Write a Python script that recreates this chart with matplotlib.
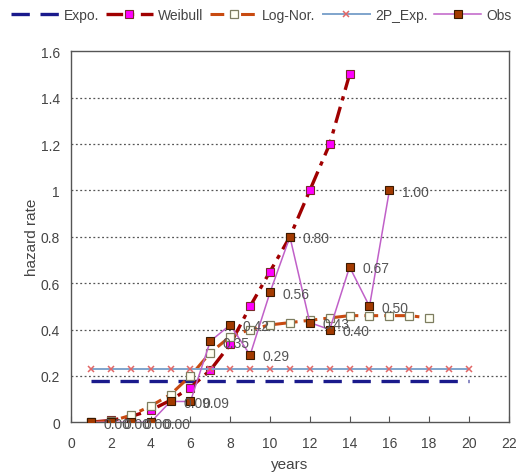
import matplotlib
matplotlib.use("Agg")
import matplotlib.pyplot as plt

plt.rcParams["font.family"] = ["Liberation Sans", "DejaVu Sans"]

# ---- data ----
years = list(range(1, 21))

expo_x = [1, 20]
expo = [0.18, 0.18]

weibull_x = list(range(1, 15))
weibull = [0.001, 0.008, 0.025, 0.052, 0.095, 0.15, 0.225, 0.336,
           0.50, 0.65, 0.80, 1.00, 1.20, 1.50]

lognor_x = list(range(1, 19))
lognor = [0.0, 0.005, 0.03, 0.07, 0.12, 0.20, 0.30, 0.37, 0.40,
          0.42, 0.43, 0.44, 0.45, 0.46, 0.46, 0.46, 0.46, 0.45]

exp2p_x = years
exp2p = [0.23] * 20

obs_x = list(range(1, 17))
obs = [0.00, 0.00, 0.00, 0.00, 0.09, 0.09, 0.35, 0.42, 0.29,
       0.56, 0.80, 0.43, 0.40, 0.67, 0.50, 1.00]

x_ticks = list(range(0, 23, 2))
y_ticks = [0, 0.2, 0.4, 0.6, 0.8, 1.0, 1.2, 1.4, 1.6]
y_tick_labels = ["0", "0.2", "0.4", "0.6", "0.8", "1", "1.2", "1.4", "1.6"]

# ---- figure ----
fig = plt.figure(figsize=(5.23, 4.77), dpi=100)
ax = fig.add_axes([0.1358, 0.1125, 0.837, 0.778])

txt = "#444444"
ms = 5.8

l_expo, = ax.plot(expo_x, expo, color="#1a1a8c", lw=2.4,
                  dashes=(5.5, 3.2), label="Expo.", zorder=2)
l_weib, = ax.plot(weibull_x, weibull, color="#a00000", lw=2.4,
                  dashes=(5, 2, 1.3, 2), marker="s", ms=ms,
                  mfc="#ff00ff", mec="#7a2a2a", mew=0.8,
                  label="Weibull", zorder=3)
l_logn, = ax.plot(lognor_x, lognor, color="#c84a10", lw=2.2,
                  dashes=(4.5, 2, 1.5, 2), marker="s", ms=ms,
                  mfc="#fffff2", mec="#7d7d60", mew=0.9,
                  label="Log-Nor.", zorder=4)
l_2p, = ax.plot(exp2p_x, exp2p, color="#7fa4cc", lw=1.4,
                marker="x", ms=5, mec="#e06666", mew=1.1,
                label="2P_Exp.", zorder=5)
l_obs, = ax.plot(obs_x, obs, color="#c060c8", lw=1.1,
                 marker="s", ms=ms, mfc="#a33a00", mec="#3a1a00",
                 mew=0.8, label="Obs", zorder=6)

# value labels for the observed series
for xv, yv in zip(obs_x, obs):
    ax.annotate(f"{yv:.2f}", (xv, yv), xytext=(9, -1),
                textcoords="offset points", ha="left", va="center",
                fontsize=10, color="#555555", zorder=7)

ax.set_xlim(0, 22)
ax.set_ylim(0, 1.6)
ax.set_xticks(x_ticks)
ax.set_yticks(y_ticks)
ax.set_yticklabels(y_tick_labels)

for yv in y_ticks[1:-1]:
    ax.axhline(yv, color="#555555", lw=0.9, ls=(0, (1.5, 2.0)), zorder=1)

for s in ax.spines.values():
    s.set_color("#555555")
    s.set_linewidth(1.0)

ax.tick_params(axis="x", direction="in", length=4, color="#555555",
               labelsize=10, labelcolor=txt, pad=10)
ax.tick_params(axis="y", length=0, labelsize=10, labelcolor=txt, pad=8)

ax.set_xlabel("years", fontsize=11, color=txt, labelpad=5)
ax.set_ylabel("hazard rate", fontsize=11, color=txt, labelpad=1)

fig.legend(handles=[l_expo, l_weib, l_logn, l_2p, l_obs],
           loc="center", bbox_to_anchor=(0.5, 0.966), ncol=5,
           frameon=False, fontsize=10, handlelength=3.4,
           handletextpad=0.35, columnspacing=0.5, labelcolor=txt,
           borderaxespad=0, borderpad=0)

fig.savefig("out.png", dpi=100)
